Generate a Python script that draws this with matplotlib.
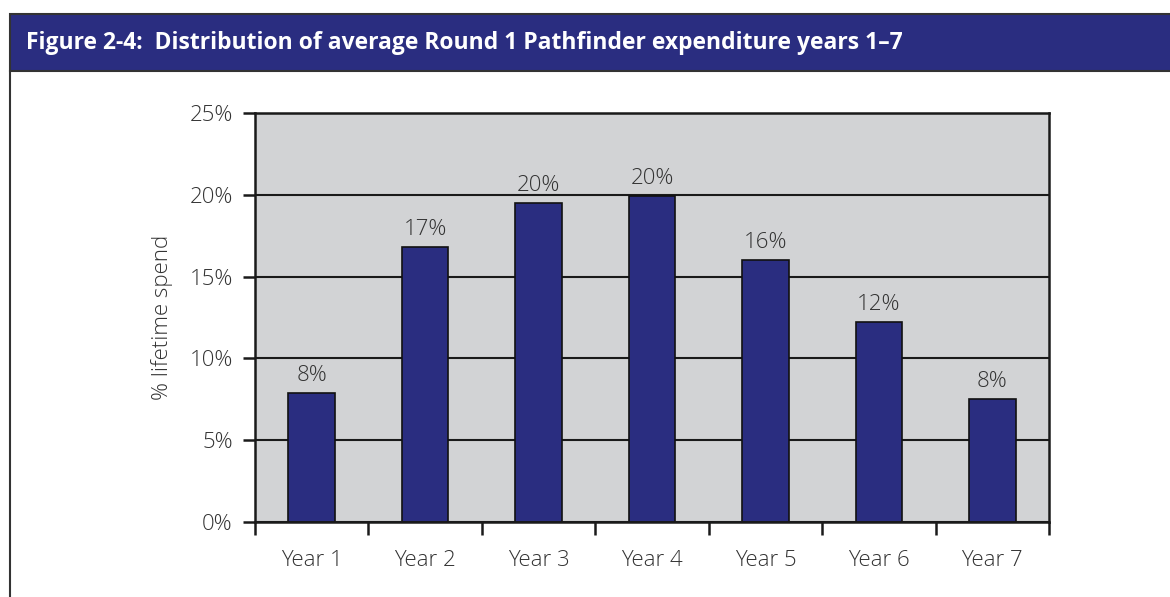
import matplotlib.pyplot as plt
import numpy as np
from matplotlib.patches import Rectangle
from matplotlib.lines import Line2D

# data
years = ['Year 1', 'Year 2', 'Year 3', 'Year 4', 'Year 5', 'Year 6', 'Year 7']
spend = [7.9, 16.8, 19.5, 19.9, 16.0, 12.2, 7.5]
bar_labels = ['8%', '17%', '20%', '20%', '16%', '12%', '8%']
yticks = [0, 5, 10, 15, 20, 25]

navy = '#2a2d80'
txt = '#333333'
plt.rcParams['font.family'] = ['Open Sans', 'DejaVu Sans']
fs = 16

fig = plt.figure(figsize=(11.7, 5.97), dpi=100)

# header band + frame
fig.patches.append(Rectangle((10/1170, 1 - 71/597), 1.0, 57/597, transform=fig.transFigure,
                             facecolor=navy, edgecolor='#333333', linewidth=1.5))
fig.lines.append(Line2D([10/1170, 10/1170], [0, 1 - 71/597], transform=fig.transFigure,
                        color='#333333', linewidth=1.5))
fig.text(26/1170, 1 - 43/597, 'Figure 2-4:  Distribution of average Round 1 Pathfinder expenditure years 1\u20137',
         color='white', fontsize=16.5, fontweight='bold', va='center', ha='left')

ax = fig.add_axes([255/1170, 75/597, 794/1170, 409/597])
x = np.arange(len(years))
ax.set_facecolor('#d2d3d5')
ax.set_axisbelow(True)
ax.yaxis.grid(True, color='#1a1a1a', linewidth=1.5)
ax.bar(x, spend, width=0.41, color=navy, edgecolor='#111111', linewidth=1.2)

for xi, v, lab in zip(x, spend, bar_labels):
    ax.annotate(lab, (xi, v), xytext=(0, 5), textcoords='offset points',
                ha='center', va='bottom', fontsize=fs, color=txt, fontweight='light')

ax.set_xlim(-0.5, len(years) - 0.5)
ax.set_ylim(0, 25)
ax.set_yticks(yticks)
ax.set_yticklabels([f'{t}%' for t in yticks], fontweight='light')
ax.set_xticks(x)
ax.set_xticklabels(years, fontweight='light')
ax.set_xticks(np.arange(-0.5, len(years)), minor=True)
ax.tick_params(axis='x', which='major', length=0, pad=20, labelsize=fs, labelcolor=txt)
ax.tick_params(axis='x', which='minor', length=9, width=1.8, direction='out', color='#1a1a1a')
ax.tick_params(axis='y', length=9, width=1.8, direction='out', pad=7, labelsize=fs,
               labelcolor=txt, color='#1a1a1a')
for s in ax.spines.values():
    s.set_color('#1a1a1a')
    s.set_linewidth(1.8)

ax.set_ylabel('% lifetime spend', fontsize=fs, color=txt, labelpad=12, fontweight='light')

fig.savefig('out.png', dpi=100)
